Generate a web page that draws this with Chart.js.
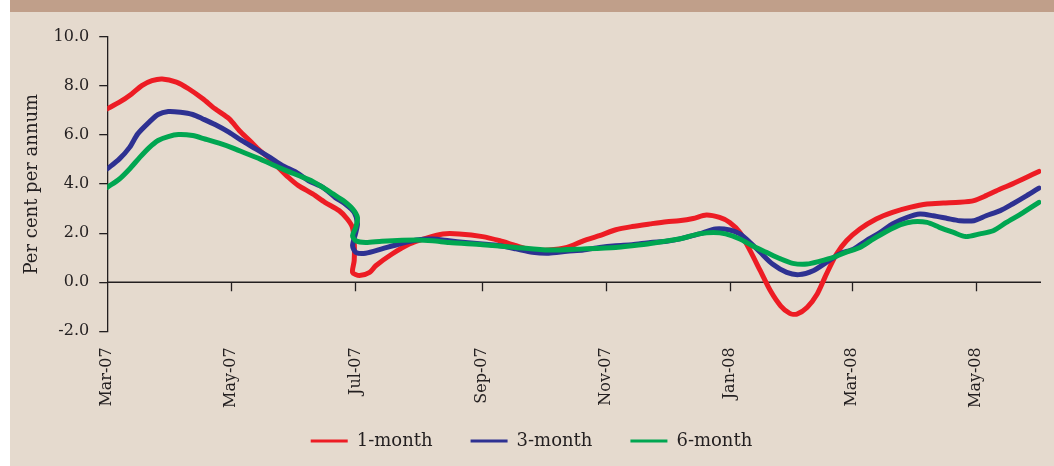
<!DOCTYPE html>
<html>
<head>
<meta charset="utf-8">
<script src="https://cdn.jsdelivr.net/npm/chart.js@4.4.0/dist/chart.umd.min.js"></script>
<style>
  html, body { margin: 0; padding: 0; background: #ffffff; }
  #panel { position: absolute; left: 10px; top: 0; width: 1044px; height: 466px; background: #e5dace; }
  #band { position: absolute; left: 10px; top: 0; width: 1044px; height: 12px; background: #c09f8a; }
  #wrap { position: absolute; left: 0; top: 0; width: 1054px; height: 466px; }
</style>
</head>
<body>
<div id="panel"></div>
<div id="band"></div>
<div id="wrap"><canvas id="rates"></canvas></div>
<script>
// days counted from 1 Mar 2007
const tickDays = [0, 61, 122, 184, 245, 306, 366, 427];
const tickLabels = ["Mar-07", "May-07", "Jul-07", "Sep-07", "Nov-07", "Jan-08", "Mar-08", "May-08"];
const seriesNames = ["1-month", "3-month", "6-month"];

const oneMonthDays = [0, 6, 12, 17, 22, 27, 34, 40, 47, 53, 60, 65, 70, 75, 80, 84, 89, 94, 101, 107, 114, 118, 120.5, 121.4, 121.4, 120.6, 124, 129, 132, 140, 148.5, 157, 165, 173, 184.5, 193, 201, 209, 217, 226, 234, 242, 250, 258, 267, 275, 281, 288, 294.5, 301, 306, 311, 316, 321, 326, 331, 335.5, 339, 344, 349, 353.5, 358.5, 363.4, 370, 378, 386, 394.5, 403, 411, 419, 426, 432, 439, 445, 452, 458];
const oneMonth = [7.07, 7.34, 7.68, 8.02, 8.22, 8.29, 8.16, 7.89, 7.48, 7.07, 6.66, 6.18, 5.78, 5.37, 5.03, 4.69, 4.28, 3.94, 3.6, 3.26, 2.92, 2.58, 2.24, 1.69, 0.88, 0.4, 0.27, 0.4, 0.67, 1.15, 1.56, 1.8, 1.97, 1.97, 1.86, 1.69, 1.49, 1.31, 1.31, 1.42, 1.69, 1.9, 2.14, 2.27, 2.38, 2.47, 2.51, 2.6, 2.74, 2.64, 2.44, 2.03, 1.29, 0.47, -0.35, -0.96, -1.27, -1.3, -1.03, -0.48, 0.33, 1.15, 1.69, 2.17, 2.58, 2.85, 3.05, 3.19, 3.23, 3.26, 3.33, 3.53, 3.8, 4.01, 4.28, 4.52];

const threeMonthDays = [0, 6, 11, 15, 20.5, 25, 30, 36, 42, 47, 53, 60, 66, 73, 80, 86, 93, 99, 106, 112, 117, 121.4, 123, 122, 120.6, 122.2, 127, 135, 143.6, 152, 160, 168, 176, 184.5, 193, 201, 209, 217, 226, 234, 242, 250, 258, 267, 275, 281, 291, 299, 306, 311, 316, 321, 327, 334, 340, 347, 353.5, 360, 367, 373, 380, 386, 393, 399.5, 406, 413, 419, 426, 432, 439, 445, 452, 458];
const threeMonth = [4.62, 5.03, 5.5, 6.05, 6.52, 6.84, 6.96, 6.93, 6.84, 6.66, 6.43, 6.11, 5.78, 5.44, 5.09, 4.76, 4.48, 4.14, 3.87, 3.46, 3.19, 2.85, 2.38, 1.97, 1.49, 1.22, 1.18, 1.36, 1.56, 1.72, 1.76, 1.69, 1.62, 1.56, 1.49, 1.36, 1.22, 1.18, 1.26, 1.31, 1.42, 1.49, 1.53, 1.62, 1.67, 1.76, 1.97, 2.17, 2.13, 1.97, 1.62, 1.22, 0.74, 0.4, 0.31, 0.47, 0.81, 1.15, 1.36, 1.69, 2.03, 2.38, 2.64, 2.78, 2.71, 2.6, 2.51, 2.51, 2.71, 2.92, 3.19, 3.53, 3.84];

const sixMonthDays = [0, 6, 11, 16, 20.5, 25, 30, 35, 42, 48, 55, 61.5, 68, 75, 81, 88, 94, 101, 106, 111, 116, 120.6, 123, 122.2, 120.6, 122.2, 127, 135, 152, 160, 168, 184.5, 201, 217, 234, 250, 258, 267, 281, 291, 298, 304, 311, 317, 324, 331, 337, 344, 350, 357, 363, 370, 376.5, 383, 390, 396, 403, 409, 416, 422, 429, 435.5, 442, 449, 458];
const sixMonth = [3.87, 4.21, 4.62, 5.09, 5.48, 5.78, 5.94, 6.02, 5.98, 5.84, 5.67, 5.48, 5.26, 5.03, 4.8, 4.55, 4.35, 4.11, 3.87, 3.6, 3.33, 2.99, 2.64, 2.24, 1.9, 1.69, 1.62, 1.67, 1.72, 1.69, 1.62, 1.53, 1.42, 1.31, 1.36, 1.42, 1.49, 1.58, 1.76, 1.97, 2.03, 1.97, 1.76, 1.49, 1.22, 0.95, 0.77, 0.74, 0.85, 1.01, 1.22, 1.42, 1.76, 2.07, 2.35, 2.47, 2.44, 2.24, 2.03, 1.86, 1.97, 2.1, 2.44, 2.78, 3.26];

const inkColor = "#231f20";
const fontFamily = "'DejaVu Serif', serif";

function pairUp(xs, ys) {
  return xs.map((x, i) => ({ x: x, y: ys[i] }));
}

// zero line with the small downward ticks, like the axis crossing at 0
const zeroAxis = {
  id: "zeroAxis",
  beforeDraw(chart) {
    // x labels hang below the shortened axis box, so don't clip them
    chart.scales.x._computeLabelArea = () => undefined;
  },
  beforeDatasetsDraw(chart) {
    const ctx = chart.ctx;
    const xs = chart.scales.x;
    const y0 = chart.scales.y.getPixelForValue(0);
    ctx.save();
    ctx.strokeStyle = inkColor;
    ctx.lineWidth = 1.3;
    ctx.beginPath();
    ctx.moveTo(chart.chartArea.left, y0);
    ctx.lineTo(chart.chartArea.right, y0);
    tickDays.forEach((d) => {
      if (d === 0) return;
      const px = Math.round(xs.getPixelForValue(d)) + 0.5;
      ctx.moveTo(px, y0);
      ctx.lineTo(px, y0 + 9);
    });
    ctx.stroke();
    ctx.restore();
  },
};

const lineStyle = {
  borderWidth: 5,
  pointRadius: 0,
  tension: 0.25,
  borderJoinStyle: "round",
  borderCapStyle: "round",
  fill: false,
};

new Chart(document.getElementById("rates"), {
  type: "line",
  data: {
    datasets: [
      Object.assign({ label: seriesNames[0], data: pairUp(oneMonthDays, oneMonth), borderColor: "#ed1c24", backgroundColor: "#ed1c24", order: 2 }, lineStyle),
      Object.assign({ label: seriesNames[1], data: pairUp(threeMonthDays, threeMonth), borderColor: "#2e3192", backgroundColor: "#2e3192", order: 1 }, lineStyle),
      Object.assign({ label: seriesNames[2], data: pairUp(sixMonthDays, sixMonth), borderColor: "#00a651", backgroundColor: "#00a651", order: 0 }, lineStyle),
    ],
  },
  plugins: [zeroAxis],
  options: {
    responsive: true,
    maintainAspectRatio: false,
    animation: false,
    parsing: false,
    layout: { padding: { top: 37, right: 13, left: 22, bottom: 6 } },
    scales: {
      x: {
        type: "linear",
        min: 0,
        max: 459,
        afterBuildTicks: (scale) => {
          scale.ticks = tickDays.map((d) => ({ value: d }));
        },
        afterFit: (scale) => {
          // labels may hang into the legend band, as in the original
          scale.height -= 30;
        },
        grid: { display: false, drawTicks: false },
        border: { display: false },
        ticks: {
          autoSkip: false,
          minRotation: 90,
          maxRotation: 90,
          padding: 16,
          color: inkColor,
          font: { family: fontFamily, size: 16 },
          callback: (v) => tickLabels[tickDays.indexOf(v)],
        },
      },
      y: {
        min: -2,
        max: 10,
        grid: { drawOnChartArea: false, drawTicks: true, tickLength: 8, color: inkColor, lineWidth: 1.3 },
        border: { display: true, color: inkColor, width: 1.3 },
        ticks: {
          stepSize: 2,
          padding: 10,
          color: inkColor,
          font: { family: fontFamily, size: 16 },
          callback: (v) => v.toFixed(1),
        },
        title: {
          display: true,
          text: "Per cent per annum",
          color: inkColor,
          padding: { top: 0, bottom: 0 },
          font: { family: fontFamily, size: 18 },
        },
      },
    },
    plugins: {
      tooltip: { enabled: false },
      legend: {
        position: "bottom",
        labels: {
          boxWidth: 37,
          boxHeight: 3,
          padding: 38,
          color: inkColor,
          font: { family: fontFamily, size: 18 },
          generateLabels: (chart) =>
            chart.data.datasets.map((ds, i) => ({
              text: ds.label,
              fillStyle: ds.borderColor,
              strokeStyle: ds.borderColor,
              lineWidth: 0,
              fontColor: inkColor,
              hidden: false,
              datasetIndex: i,
            })),
        },
      },
    },
  },
});
</script>
</body>
</html>
